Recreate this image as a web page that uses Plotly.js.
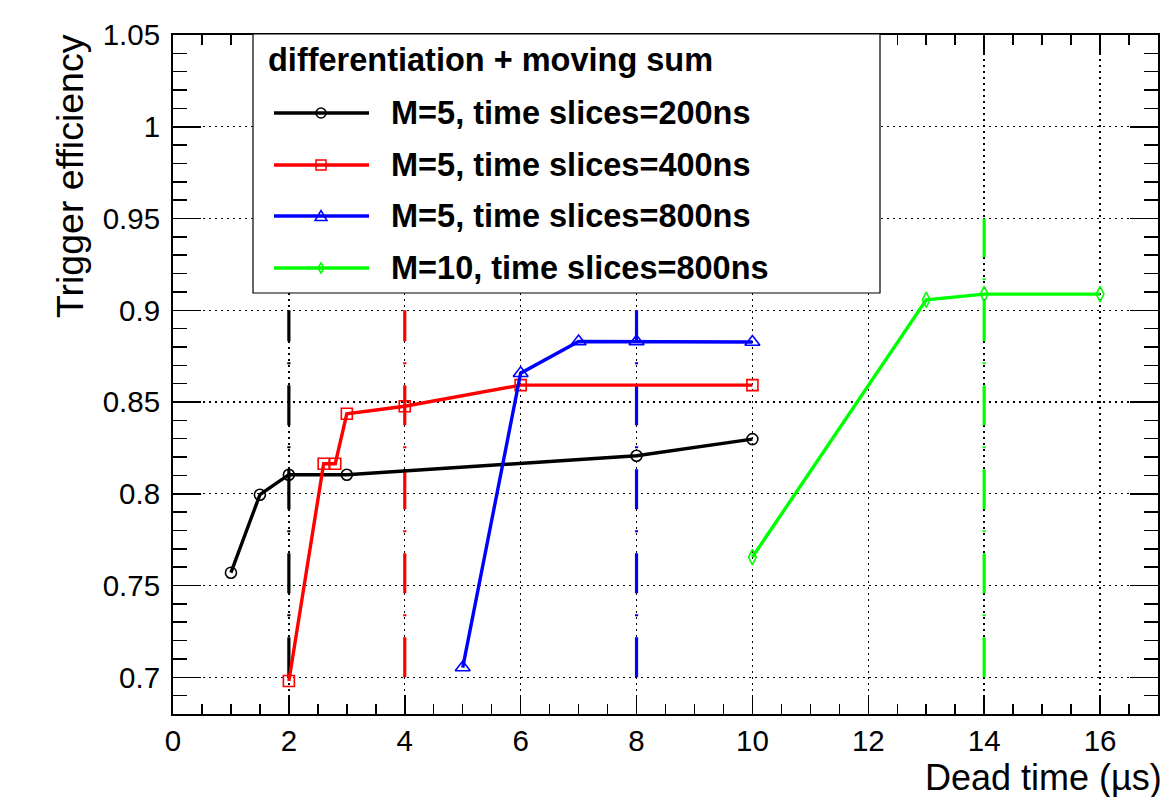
<!DOCTYPE html>
<html><head><meta charset="utf-8">
<script src="https://cdn.plot.ly/plotly-3.0.1.min.js"></script>
<style>html,body{margin:0;padding:0;background:#fff;}#chart{width:1171px;height:797px;}</style>
</head><body><div id="chart"></div>
<script>
// ---- data ----
const legendTitle = "differentiation + moving sum";
const seriesNames = ["M=5, time slices=200ns", "M=5, time slices=400ns", "M=5, time slices=800ns", "M=10, time slices=800ns"];
const seriesColors = ["#000000", "#ff0000", "#0000ff", "#00ff00"];

const xBlack = [1, 1.5, 2, 3, 8, 10];
const yBlack = [0.757, 0.7995, 0.8104, 0.8104, 0.8207, 0.8298];

const xRed = [2, 2.6, 2.8, 3, 4, 6, 10];
const yRed = [0.698, 0.8164, 0.8164, 0.8436, 0.8477, 0.8592, 0.8592];

const xBlue = [5, 6, 7, 8, 10];
const yBlue = [0.7053, 0.8657, 0.883, 0.883, 0.8827];

const xGreen = [10, 13, 14, 16];
const yGreen = [0.7655, 0.9057, 0.9088, 0.9088];

// vertical dead-time cut lines
const cutX = [2, 4, 8, 14];
const cutLow = [0.7, 0.7, 0.7, 0.7];
const cutHigh = [0.9, 0.9, 0.9, 0.95];

const xTickVals = [0, 2, 4, 6, 8, 10, 12, 14, 16];
const xTickText = ["0", "2", "4", "6", "8", "10", "12", "14", "16"];
const yTickVals = [0.7, 0.75, 0.8, 0.85, 0.9, 0.95, 1.0, 1.05];
const yTickText = ["0.7", "0.75", "0.8", "0.85", "0.9", "0.95", "1", "1.05"];

const xTitle = "Dead time (µs)";
const yTitle = "Trigger efficiency";

// ---- styling ----
const FONT = "Liberation Sans, Arial, Helvetica, sans-serif";
const symbols = ["circle-open", "square-open", "triangle-up-open", "diamond-tall-open"];
const msizes = [11, 11, 13, 11];
const seriesX = [xBlack, xRed, xBlue, xGreen];
const seriesY = [yBlack, yRed, yBlue, yGreen];

const traces = [];
cutX.forEach((cx, i) => {
  traces.push({
    x: [cx, cx], y: [cutLow[i], cutHigh[i]],
    mode: "lines", type: "scatter", showlegend: false, hoverinfo: "skip",
    line: {color: seriesColors[i], width: 3.2, dash: "40px,21px,2px,21px"}
  });
});
seriesX.forEach((xs, i) => {
  traces.push({
    x: xs, y: seriesY[i], name: seriesNames[i],
    mode: "lines+markers", type: "scatter", showlegend: false, cliponaxis: false,
    line: {color: seriesColors[i], width: 3.4},
    marker: {symbol: symbols[i], size: msizes[i], color: seriesColors[i], line: {color: seriesColors[i], width: 1.6}}
  });
});

// ---- frame geometry (pixels) ----
const W = 1171, H = 797;
const mL = 173, mR = 13, mT = 35, mB = 83;
const pw = W - mL - mR, ph = H - mT - mB;
const px = v => (v - mL) / pw;          // pixel x -> paper
const py = v => (H - mB - v) / ph;       // pixel y -> paper

// ---- custom legend ----
const shapes = [];
const annotations = [];
shapes.push({type: "rect", xref: "paper", yref: "paper", layer: "above",
  x0: px(253), x1: px(880), y0: py(293), y1: py(34),
  line: {color: "#000", width: 1.2}, fillcolor: "#fff"});
annotations.push({xref: "paper", yref: "paper", x: px(266), y: py(60), xanchor: "left", yanchor: "middle",
  text: legendTitle, showarrow: false, font: {family: FONT, size: 32.5, color: "#000", weight: "bold"}});
const rowY = [113, 165, 216, 268];
const markerPaths = [
  null, null,
  "M-6,-4.5L6,-4.5L0,5.5Z",
  "M0,-5L3.2,0L0,5L-3.2,0Z"
];
seriesNames.forEach((nm, i) => {
  const yc = py(rowY[i]);
  shapes.push({type: "line", xref: "paper", yref: "paper", layer: "above",
    x0: px(274), x1: px(369), y0: yc, y1: yc, line: {color: seriesColors[i], width: 3.4}});
  const base = {xref: "paper", yref: "paper", layer: "above", xsizemode: "pixel", ysizemode: "pixel",
    xanchor: px(321), yanchor: yc, line: {color: seriesColors[i], width: 1.5}, fillcolor: "rgba(0,0,0,0)"};
  if (i === 0) shapes.push(Object.assign({type: "circle", x0: -5, x1: 5, y0: -5, y1: 5}, base));
  else if (i === 1) shapes.push(Object.assign({type: "rect", x0: -5, x1: 5, y0: -5, y1: 5}, base));
  else shapes.push(Object.assign({type: "path", path: markerPaths[i]}, base));
  annotations.push({xref: "paper", yref: "paper", x: px(389), y: yc, xanchor: "left", yanchor: "middle",
    text: nm, showarrow: false, font: {family: FONT, size: 32.5, color: "#000", weight: "bold"}});
});

// axis titles (ROOT style: right/top aligned)
annotations.push({xref: "paper", yref: "paper", x: px(1163), y: py(777), xanchor: "right", yanchor: "middle",
  borderpad: 0, text: xTitle, showarrow: false, font: {family: FONT, size: 36, color: "#000"}});
annotations.push({xref: "paper", yref: "paper", x: px(70), y: py(32), xanchor: "center", yanchor: "top",
  textangle: -90, text: yTitle, showarrow: false, font: {family: FONT, size: 37.5, color: "#000"}});

const axisCommon = {
  ticks: "inside", tickcolor: "#000", tickwidth: 1.5, mirror: "allticks",
  showline: true, linecolor: "#000", linewidth: 2,
  showgrid: true, gridcolor: "#000", gridwidth: 1.4, griddash: "2px,4px",
  zeroline: false, tickfont: {family: FONT, size: 29.5, color: "#000"},
  tickmode: "array", fixedrange: true
};

const layout = {
  width: W, height: H,
  margin: {l: mL, r: mR, t: mT, b: mB},
  paper_bgcolor: "#fff", plot_bgcolor: "#fff",
  showlegend: false, hovermode: false,
  font: {family: FONT, color: "#000"},
  xaxis: Object.assign({}, axisCommon, {
    range: [0, 17], tickvals: xTickVals, ticktext: xTickText, ticklen: 19, ticklabelstandoff: 0,
    minor: {tickmode: "linear", tick0: 0, dtick: 0.5, ticks: "inside", ticklen: 10, tickwidth: 1.5, tickcolor: "#000", showgrid: false}
  }),
  yaxis: Object.assign({}, axisCommon, {
    range: [0.68, 1.05], tickvals: yTickVals, ticktext: yTickText, ticklen: 28, ticklabelstandoff: 5,
    minor: {tickmode: "linear", tick0: 0.68, dtick: 0.01, ticks: "inside", ticklen: 14, tickwidth: 1.5, tickcolor: "#000", showgrid: false}
  }),
  shapes: shapes,
  annotations: annotations
};

Plotly.newPlot("chart", traces, layout, {displayModeBar: false, staticPlot: true});
</script></body></html>
